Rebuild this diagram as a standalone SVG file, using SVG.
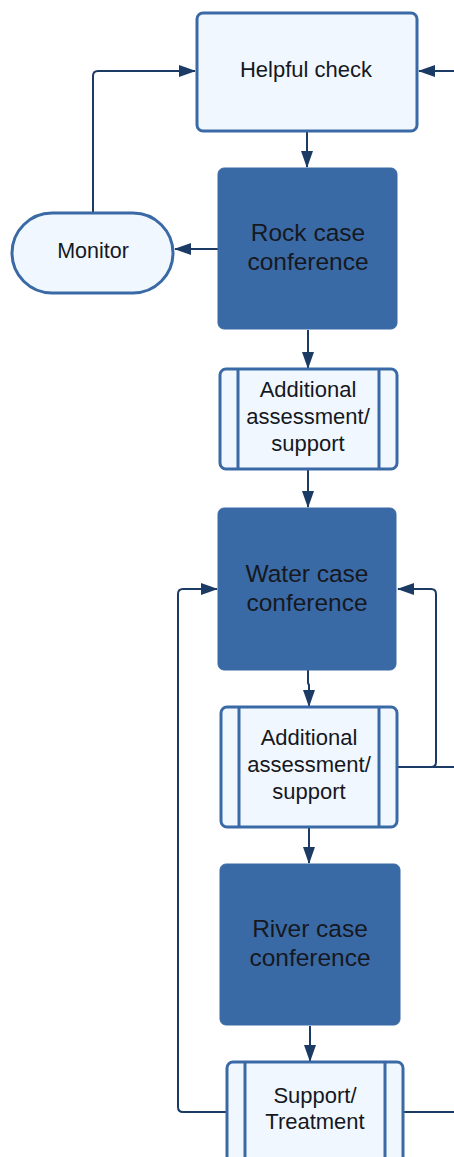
<svg xmlns="http://www.w3.org/2000/svg" width="454" height="1157" viewBox="0 0 454 1157">
<defs>
<marker id="ah" viewBox="0 0 17 12" refX="16" refY="6" markerWidth="17" markerHeight="12" markerUnits="userSpaceOnUse" orient="auto">
<path d="M0,0 L17,6 L0,12 Z" fill="#1b3a64"/>
</marker>
<style>
.light{fill:#f0f7fe;stroke:#3a6aa5;stroke-width:3}
.dark{fill:#3a6aa5;stroke:#3a6aa5;stroke-width:1}
.inner{stroke:#3a6aa5;stroke-width:3;fill:none}
.t{font-family:"Liberation Sans",Arial,sans-serif;fill:#16181f;text-anchor:middle}
.c{fill:none;stroke:#1b3a64;stroke-width:2;stroke-linejoin:round}
</style>
</defs>
<rect width="454" height="1157" fill="#ffffff"/>
<g id="connectors">
<path class="c" d="M307 132 V167" marker-end="url(#ah)"/>
<path class="c" d="M218 249 H175" marker-end="url(#ah)"/>
<path class="c" d="M93 212 V76 Q93 71 98 71 H195" marker-end="url(#ah)"/>
<path class="c" d="M454 71 H419" marker-end="url(#ah)"/>
<path class="c" d="M308 330 V368" marker-end="url(#ah)"/>
<path class="c" d="M308 470 V507" marker-end="url(#ah)"/>
<path class="c" d="M308 660 V683 L309 685 V706" marker-end="url(#ah)"/>
<path class="c" d="M397 767 H454"/>
<path class="c" d="M397 767 H431 Q436 767 436 762 V594 Q436 589 431 589 H398" marker-end="url(#ah)"/>
<path class="c" d="M309 828 V863" marker-end="url(#ah)"/>
<path class="c" d="M310 1026 V1061" marker-end="url(#ah)"/>
<path class="c" d="M227 1112 H183 Q178 1112 178 1107 V594 Q178 589 183 589 H217" marker-end="url(#ah)"/>
<path class="c" d="M403 1112 H454"/>
</g>
<g id="helpful-check">
<rect class="light" x="197" y="13" width="220" height="118" rx="6"/>
<text class="t" x="306" y="77" font-size="22">Helpful check</text>
</g>
<g id="rock-case-conference">
<rect class="dark" x="218" y="168" width="179" height="161" rx="6"/>
<text class="t" x="308" y="241" font-size="24.5">Rock case</text>
<text class="t" x="308" y="270" font-size="24.5">conference</text>
</g>
<g id="monitor">
<rect class="light" x="12" y="213" width="161" height="80" rx="40"/>
<text class="t" x="93" y="258" font-size="21.5">Monitor</text>
</g>
<g id="additional-assessment-1">
<rect class="light" x="220" y="369" width="177" height="100" rx="6"/>
<path class="inner" d="M238 369 V469 M379 369 V469"/>
<text class="t" x="308" y="397" font-size="22">Additional</text>
<text class="t" x="308" y="424" font-size="22">assessment/</text>
<text class="t" x="308" y="451" font-size="22">support</text>
</g>
<g id="water-case-conference">
<rect class="dark" x="218" y="508" width="178" height="162" rx="6"/>
<text class="t" x="307" y="582" font-size="24.5">Water case</text>
<text class="t" x="307" y="611" font-size="24.5">conference</text>
</g>
<g id="additional-assessment-2">
<rect class="light" x="221" y="707" width="176" height="120" rx="6"/>
<path class="inner" d="M239 707 V827 M379 707 V827"/>
<text class="t" x="309" y="745" font-size="22">Additional</text>
<text class="t" x="309" y="772" font-size="22">assessment/</text>
<text class="t" x="309" y="799" font-size="22">support</text>
</g>
<g id="river-case-conference">
<rect class="dark" x="220" y="864" width="180" height="161" rx="6"/>
<text class="t" x="310" y="937" font-size="24.5">River case</text>
<text class="t" x="310" y="966" font-size="24.5">conference</text>
</g>
<g id="support-treatment">
<rect class="light" x="227" y="1062" width="176" height="120" rx="6"/>
<path class="inner" d="M245 1062 V1182 M385 1062 V1182"/>
<text class="t" x="315" y="1103" font-size="22">Support/</text>
<text class="t" x="315" y="1129" font-size="22">Treatment</text>
</g>
</svg>
